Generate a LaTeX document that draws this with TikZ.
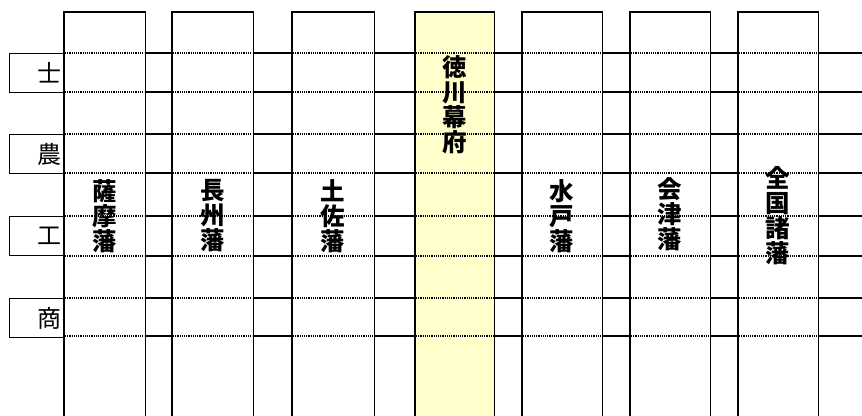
\documentclass[tikz,border=0pt]{standalone}
\usepackage{fontspec}
\newfontfamily\jp{Noto Sans CJK JP}
\definecolor{bakufu}{RGB}{255,255,204}
\begin{document}
\begin{tikzpicture}[x=1pt,y=-1pt,
  colnode/.style={draw=black,line width=1.2pt,minimum height=440pt,anchor=north west,inner sep=0pt},
  labbox/.style={draw=black,line width=1.2pt,minimum width=55pt,minimum height=39pt,anchor=north west,inner sep=0pt},
  labtext/.style={font=\jp\fontsize{24}{24}\selectfont,anchor=east,inner sep=0pt},
  coltext/.style={font=\jp\bfseries\fontsize{24.5}{25}\selectfont,align=center,inner sep=0pt},
  solidrow/.style={draw=black,line width=1.2pt},
  dotrow/.style={draw=black,line width=1.1pt,dash pattern=on 1.1pt off 1.1pt}]
\useasboundingbox (0,0) rectangle (862,415);
\clip (0,0) rectangle (862,415);
\fill[white] (0,0) rectangle (862,415);
% columns (fill only first)
\node[colnode,draw=none,minimum width=80pt] (c1) at (64,12) {};
\node[colnode,draw=none,minimum width=80pt] (c2) at (172,12) {};
\node[colnode,draw=none,minimum width=81pt] (c3) at (292,12) {};
\node[colnode,draw=none,fill=bakufu,minimum width=78pt] (c4) at (415,12) {};
\node[colnode,draw=none,minimum width=79pt] (c5) at (522,12) {};
\node[colnode,draw=none,minimum width=79pt] (c6) at (630,12) {};
\node[colnode,draw=none,minimum width=79pt] (c7) at (738,12) {};
\coordinate (rightend) at (862,12);
% row lines
\foreach \y in {53,92,134,173,216,256,298,336}{
  \foreach \a/\b in {c1/c2,c2/c3,c3/c4,c4/c5,c5/c6,c6/c7}{
    \path[solidrow] (\a.east |- 0,\y) -- (\b.west |- 0,\y);
  }
  \path[solidrow] (c7.east |- 0,\y) -- (rightend |- 0,\y);
  \foreach \c in {c1,c2,c3,c4,c5,c6,c7}{
    \path[dotrow] ([xshift=1pt]\c.west |- 0,\y) -- ([xshift=-1pt]\c.east |- 0,\y);
  }
}
% column borders (open at bottom)
\foreach \c in {c1,c2,c3,c4,c5,c6,c7}{
  \draw[line width=1.2pt,line join=miter] (\c.south west) -- (\c.north west) -- (\c.north east) -- (\c.south east);
}
% label boxes
\node[labbox] (b1) at (9,53) {};
\node[labbox] (b2) at (9,134) {};
\node[labbox] (b3) at (9,216) {};
\node[labbox] (b4) at (9,298) {};
\node[labtext] (l1) at ([xshift=-3pt]b1.east) {士};
\node[labtext] (l2) at ([xshift=-3pt]b2.east) {農};
\node[labtext] (l3) at ([xshift=-3pt]b3.east) {工};
\node[labtext] (l4) at ([xshift=-3pt]b4.east) {商};
% column texts
\node[coltext] (t1) at (c1 |- 0,216) {薩\\摩\\藩};
\node[coltext] (t2) at (c2 |- 0,216) {長\\州\\藩};
\node[coltext] (t3) at (c3 |- 0,216) {土\\佐\\藩};
\node[coltext] (t4) at (c4 |- 0,105) {徳\\川\\幕\\府};
\node[coltext] (t5) at (c5 |- 0,216) {水\\戸\\藩};
\node[coltext] (t6) at (c6 |- 0,214) {会\\津\\藩};
\node[coltext] (t7) at (c7 |- 0,216) {全\\国\\諸\\藩};
\end{tikzpicture}
\end{document}
